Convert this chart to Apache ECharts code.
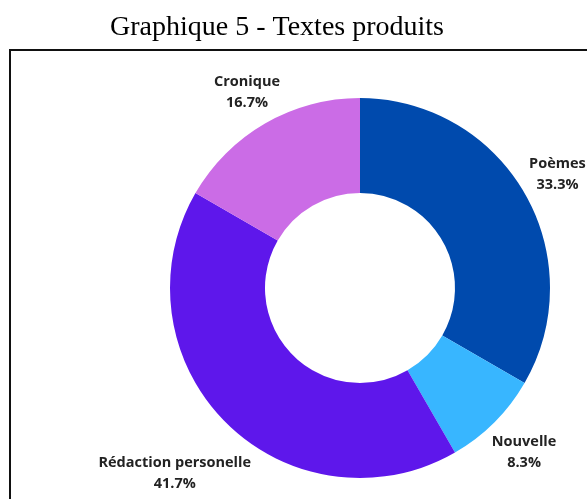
<!DOCTYPE html>
<html>
<head>
<meta charset="utf-8">
<script src="https://cdn.jsdelivr.net/npm/echarts@6/dist/echarts.min.js"></script>
<style>
  html, body { margin: 0; padding: 0; background: #ffffff; }
  #chart { width: 587px; height: 499px; }
</style>
</head>
<body>
<div id="chart"></div>
<script>
// Categories and their counts (shares of 12 texts)
const categories = ['Poèmes', 'Nouvelle', 'Rédaction personelle', 'Cronique'];
const counts = [4, 1, 5, 2];
const colors = ['#004aad', '#38b6ff', '#5e17eb', '#cb6ce6'];

// Donut geometry
const CX = 360, CY = 288, R_IN = 95, R_OUT = 190;
// Radial distance of each label centre from the donut centre
const labelDist = [228, 232, 262, 226];

const total = counts.reduce((a, b) => a + b, 0);
const chart = echarts.init(document.getElementById('chart'));

function labelPos(idx) {
  let before = 0;
  for (let i = 0; i < idx; i++) before += counts[i];
  const mid = (before + counts[idx] / 2) / total * Math.PI * 2; // clockwise from top
  return [CX + Math.sin(mid) * labelDist[idx], CY - Math.cos(mid) * labelDist[idx]];
}

chart.setOption({
  animation: false,
  title: {
    text: 'Graphique 5 - Textes produits',
    left: 272,
    top: 9,
    textAlign: 'center',
    textStyle: {
      fontFamily: 'Liberation Serif',
      fontWeight: 'normal',
      fontSize: 28,
      color: '#000000'
    }
  },
  graphic: [{
    type: 'rect',
    shape: { x: 10, y: 50, width: 620, height: 520 },
    style: { fill: 'none', stroke: '#111111', lineWidth: 2 },
    z: 0
  }],
  series: [{
    type: 'pie',
    center: [CX, CY],
    radius: [R_IN, R_OUT],
    startAngle: 90,
    clockwise: true,
    avoidLabelOverlap: false,
    data: categories.map((name, i) => ({
      name: name,
      value: counts[i],
      itemStyle: { color: colors[i] }
    })),
    itemStyle: { borderWidth: 0 },
    label: {
      show: true,
      position: 'outside',
      formatter: p => p.name + '\n' + (p.value / total * 100).toFixed(1) + '%',
      fontFamily: 'Open Sans',
      fontWeight: 'bold',
      fontSize: 14.5,
      lineHeight: 21,
      color: '#222222',
      align: 'center'
    },
    labelLine: { show: false },
    labelLayout: function (params) {
      const p = labelPos(params.dataIndex);
      return { x: p[0], y: p[1], align: 'center', verticalAlign: 'middle' };
    },
    emphasis: { disabled: true }
  }]
});
</script>
</body>
</html>
